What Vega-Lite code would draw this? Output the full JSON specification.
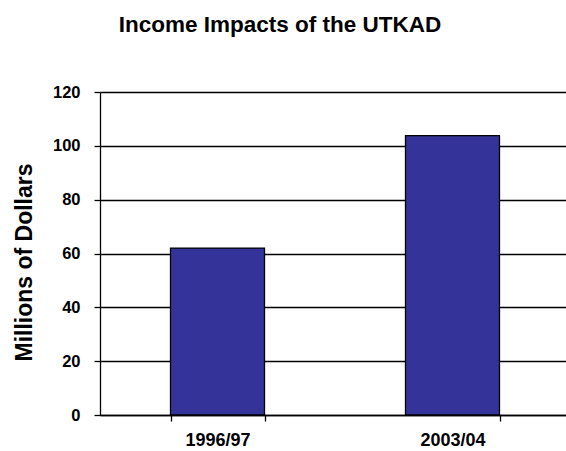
{
  "$schema": "https://vega.github.io/schema/vega-lite/v6.json",
  "autosize": "none",
  "width": 466,
  "height": 323,
  "padding": {"left": 100, "top": 92, "right": 0, "bottom": 36},
  "background": "white",
  "title": {
    "text": "Income Impacts of the UTKAD",
    "font": "Liberation Sans",
    "fontSize": 22.5,
    "fontWeight": "bold",
    "color": "black",
    "anchor": "middle",
    "frame": "group",
    "dx": -53,
    "offset": 48
  },
  "data": {"values": [
    {"period": "1996/97", "income": 62},
    {"period": "2003/04", "income": 103.8}
  ]},
  "mark": {"type": "bar", "fill": "#333399", "stroke": "black", "strokeWidth": 1.3},
  "encoding": {
    "x": {
      "field": "period", "type": "nominal", "sort": null,
      "scale": {"range": [0, 470], "paddingInner": 0.6, "paddingOuter": 0.3},
      "axis": {
        "title": null, "labelAngle": 0,
        "labelFont": "Liberation Sans", "labelFontSize": 18, "labelFontWeight": "bold", "labelColor": "black",
        "tickBand": "extent", "tickSize": 6, "tickColor": "black", "tickWidth": 1.3,
        "domain": true, "domainColor": "black", "domainWidth": 1.3,
        "labelPadding": 10, "grid": false
      }
    },
    "y": {
      "field": "income", "type": "quantitative",
      "scale": {"domain": [0, 120], "nice": false},
      "axis": {
        "title": "Millions of Dollars",
        "titleFont": "Liberation Sans", "titleFontSize": 23, "titleFontWeight": "bold", "titleColor": "black",
        "titleX": -76, "titleY": 170, "titleBaseline": "middle", "titleAngle": -90,
        "values": [0, 20, 40, 60, 80, 100, 120],
        "labelFont": "Liberation Sans", "labelFontSize": 16.5, "labelFontWeight": "bold", "labelColor": "black",
        "labelPadding": 14,
        "tickSize": 6, "tickColor": "black", "tickWidth": 1.3,
        "domainColor": "black", "domainWidth": 1.3,
        "grid": true, "gridColor": "black", "gridWidth": 1.3, "gridOpacity": 1
      }
    }
  },
  "config": {"view": {"stroke": null}}
}
